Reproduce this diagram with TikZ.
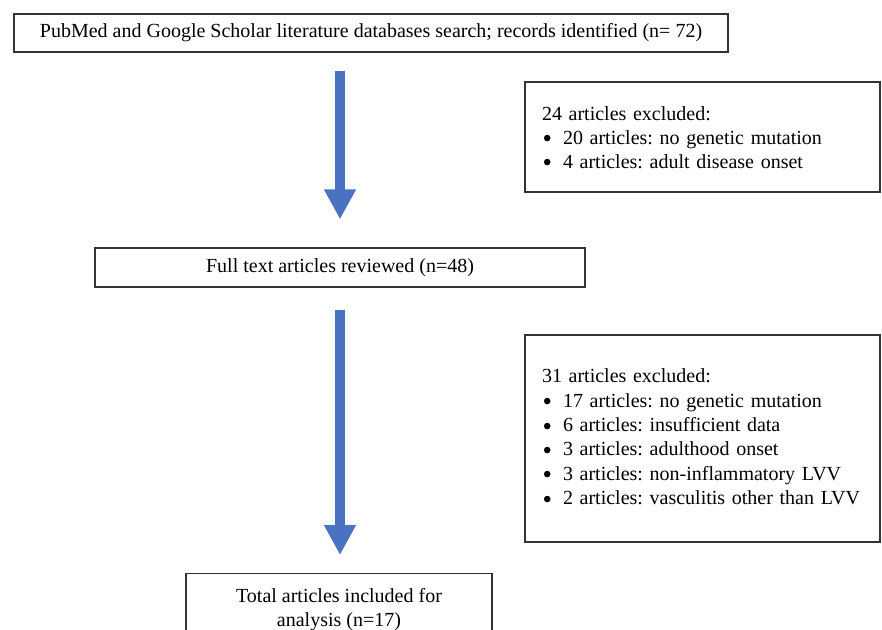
\documentclass[tikz,border=0pt]{standalone}
\usepackage{fontspec}
\setmainfont{Liberation Serif}
\usetikzlibrary{arrows.meta}
\definecolor{arrowblue}{HTML}{4A72C0}
\definecolor{boxline}{HTML}{333333}
\newcommand\blt{\makebox[21pt][l]{\hspace{0.5pt}\raisebox{-3.6pt}{\scalebox{1.35}{\textbullet}}}}
\begin{document}
\frenchspacing
\begin{tikzpicture}[x=1pt,y=-1pt,
  box/.style={draw=boxline, line width=1.3pt, inner sep=0pt, fill=white,
    font=\fontsize{20}{24}\selectfont\frenchspacing, align=center},
  exbox/.style={box, align=left, inner xsep=17pt, text width=321pt, minimum height=#1},
  bigarrow/.style={line width=10pt, draw=arrowblue, -{Triangle[width=30pt,length=30pt]}}]
\useasboundingbox (0,0) rectangle (882,629);
\clip (0,0) rectangle (882,629);
\node[box, minimum width=714pt, minimum height=38pt] (top) at (371,33)
  {PubMed and Google Scholar literature databases search; records identified (n=~72)};
\node[box, minimum width=490pt, minimum height=39pt] (mid) at (340,267.5)
  {Full text articles reviewed (n=48)};
\node[exbox=110pt] (ex1) at (702.5,137)
  {\rule{0pt}{18pt}24 articles excluded:\\
   \blt 20 articles: no genetic mutation\\
   \blt 4 articles: adult disease onset};
\node[exbox=207pt, font=\fontsize{20}{24.4}\selectfont\frenchspacing] (ex2) at (702.5,438.5)
  {31 articles excluded:\\
   \blt 17 articles: no genetic mutation\\
   \blt 6 articles: insufficient data\\
   \blt 3 articles: adulthood onset\\
   \blt 3 articles: non-inflammatory LVV\\
   \blt 2 articles: vasculitis other than LVV};
\node[box, anchor=north, minimum width=306pt, inner ysep=15pt] (bot) at (339,573)
  {Total articles included for\\analysis (n=17)};
\draw[bigarrow, shorten <=18pt, shorten >=28pt] (mid.north |- top.south) -- (mid.north);
\draw[bigarrow, shorten <=22pt, shorten >=18pt] (mid.south) -- (mid.south |- bot.north);
\end{tikzpicture}
\end{document}
